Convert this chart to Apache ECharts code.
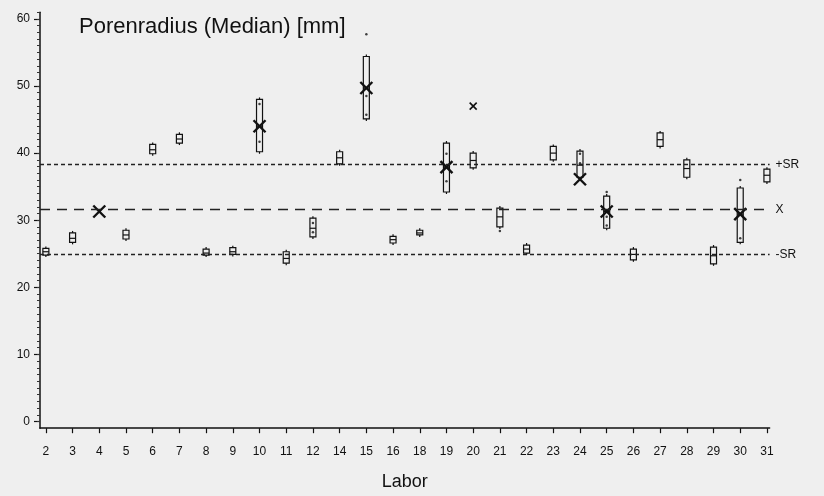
<!DOCTYPE html>
<html><head><meta charset="utf-8">
<script src="https://cdn.jsdelivr.net/npm/echarts@6/dist/echarts.min.js"></script>
<style>html,body{margin:0;padding:0;background:#efefef}#c{width:824px;height:496px}</style>
</head><body><div id="c"></div>
<script>
// Categories (Labor)
const labs = ['2','3','4','5','6','7','8','9','10','11','12','14','15','16','18','19','20','21','22','23','24','25','26','27','28','29','30','31'];
// Box extents (null = no box)
const boxLow  = [24.8,26.7,null,27.2,39.9,41.5,24.8,24.9,40.2,23.6,27.5,38.4,45.1,26.6,27.8,34.2,37.8,29.0,25.1,39.0,36.4,28.8,24.1,41.0,36.4,23.5,26.7,35.7];
const boxHigh = [25.8,28.1,null,28.5,41.3,42.8,25.7,25.9,48.0,25.3,30.3,40.2,54.4,27.6,28.5,41.5,40.0,31.8,26.3,41.0,40.3,33.6,25.7,43.0,39.0,26.0,34.8,37.6];
const boxMid  = [25.3,27.3,null,27.8,40.5,42.1,25.1,25.3,44.0,24.3,28.8,39.3,49.7,27.1,28.1,37.9,38.9,30.5,25.7,40.0,38.2,31.3,24.9,42.0,37.7,24.7,30.9,36.7];
// Individual points
const dotLab   = ['10','10','15','15','15','19','19','21','24','24','25','25','25','30','30','12','12'];
const dotValue = [47.3,41.7,48.5,45.7,57.7,39.9,35.8,28.4,39.9,38.5,34.2,30.5,29.2,36.0,27.3,29.6,28.2];
// X markers
const markLab   = ['4','10','15','19','20','24','25','30'];
const markValue = [31.3,44.0,49.7,37.9,47.0,36.1,31.3,30.9];
const markBig   = [1,1,1,1,0,1,1,1];
// Reference lines
const refNames  = ['+SR','X','-SR'];
const refValues = [38.3,31.6,24.9];

const FONT = 'Liberation Sans, Arial, sans-serif';
const idx = l => labs.indexOf(l);

const boxData = [];
labs.forEach((l,i)=>{ if(boxLow[i]!=null) boxData.push([i,boxLow[i],boxHigh[i],boxMid[i]]); });
const dotData = dotLab.map((l,i)=>[idx(l),dotValue[i]]);
const markData = markLab.map((l,i)=>[idx(l),markValue[i],markBig[i]]);
const ticks = labs.map((l,i)=>i);
const yMajor = [0,10,20,30,40,50,60];
const yMinor = []; for(let v=0; v<=61; v++) yMinor.push(v);

const chart = echarts.init(document.getElementById('c'));
chart.setOption({
  backgroundColor:'#efefef',
  animation:false,
  textStyle:{fontFamily:FONT},
  title:{text:'Porenradius (Median) [mm]',left:74,top:11,textStyle:{fontFamily:FONT,fontSize:22,fontWeight:'normal',color:'#111'}},
  grid:{left:40,right:54.4,top:12.2,bottom:67.8,outerBoundsMode:'none',containLabel:false},
  xAxis:{type:'value',min:-0.22,max:27.1,
    name:'Labor',nameLocation:'middle',nameGap:45,nameTextStyle:{fontFamily:FONT,fontSize:18,color:'#111'},
    axisLine:{show:true,onZero:false,lineStyle:{color:'#111',width:1.5}},
    axisTick:{show:true,customValues:ticks,length:5,lineStyle:{color:'#111',width:1.2}},
    axisLabel:{customValues:ticks,formatter:v=>labs[v],fontSize:12,color:'#111',margin:17,fontFamily:FONT},
    splitLine:{show:false}},
  yAxis:[{type:'value',min:-1,max:61,
    axisLine:{show:true,onZero:false,lineStyle:{color:'#111',width:1.5}},
    axisTick:{show:true,customValues:yMajor,length:6,lineStyle:{color:'#111',width:1.2}},
    axisLabel:{customValues:yMajor,fontSize:12,color:'#111',margin:10,fontFamily:FONT},
    splitLine:{show:false}},
   {type:'value',min:-1,max:61,position:'left',offset:0,
    axisLine:{show:false,onZero:false},
    axisTick:{show:true,inside:false,customValues:yMinor,length:3,lineStyle:{color:'#333',width:1}},
    axisLabel:{show:false},splitLine:{show:false}}],
  series:[
    {type:'custom',data:boxData,renderItem:(params,api)=>{
      const x=api.value(0), lo=api.coord([x,api.value(1)]), hi=api.coord([x,api.value(2)]), md=api.coord([x,api.value(3)]);
      const w=6, cx=lo[0];
      return {type:'group',children:[
        {type:'rect',shape:{x:cx-w/2,y:hi[1],width:w,height:lo[1]-hi[1]},style:{fill:'rgba(0,0,0,0)',stroke:'#111',lineWidth:1.2}},
        {type:'line',shape:{x1:cx-w/2,y1:md[1],x2:cx+w/2,y2:md[1]},style:{stroke:'#111',lineWidth:1.2}},
        {type:'line',shape:{x1:cx,y1:hi[1]-2,x2:cx,y2:hi[1]},style:{stroke:'#111',lineWidth:1.2}},
        {type:'line',shape:{x1:cx,y1:lo[1],x2:cx,y2:lo[1]+2},style:{stroke:'#111',lineWidth:1.2}}
      ]};
    }},
    {type:'scatter',data:dotData,symbolSize:2.5,itemStyle:{color:'#111'},
     markLine:{silent:true,symbol:['none','none'],
      data:refValues.map((v,i)=>({yAxis:v,name:refNames[i],
        lineStyle:{type:i===1?[10,7]:[4,3],color:'#222',width:1.3},
        label:{show:true,position:'end',formatter:refNames[i],color:'#111',fontSize:12,distance:6,fontFamily:FONT}}))}},
    {type:'custom',data:markData,renderItem:(params,api)=>{
      const p=api.coord([api.value(0),api.value(1)]); const s=api.value(2)?6:3.5; const lw=api.value(2)?2.4:1.6;
      return {type:'group',children:[
        {type:'line',shape:{x1:p[0]-s,y1:p[1]-s,x2:p[0]+s,y2:p[1]+s},style:{stroke:'#111',lineWidth:lw}},
        {type:'line',shape:{x1:p[0]-s,y1:p[1]+s,x2:p[0]+s,y2:p[1]-s},style:{stroke:'#111',lineWidth:lw}}
      ]};
    }}
  ]
});
</script></body></html>
